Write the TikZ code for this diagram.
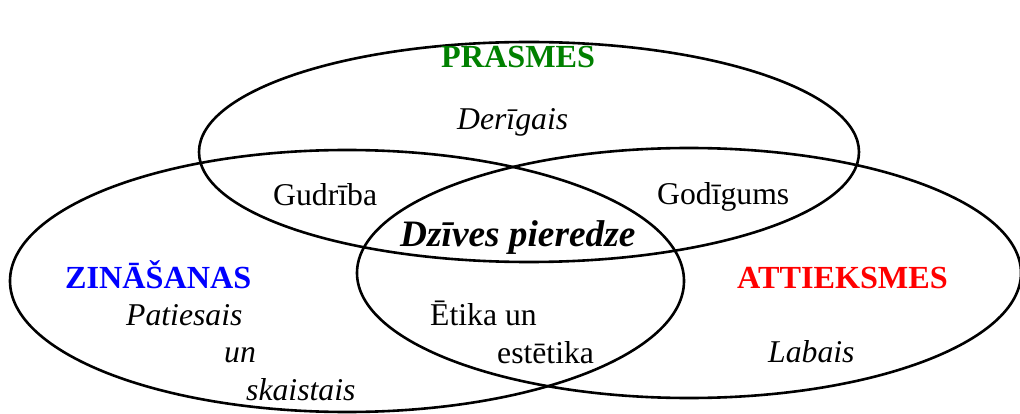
\documentclass[tikz,border=0pt]{standalone}
\usepackage{fontspec}
\setmainfont{Liberation Serif}
\definecolor{pgreen}{RGB}{0,128,0}
\definecolor{pblue}{RGB}{0,0,255}
\definecolor{pred}{RGB}{255,0,0}
\tikzset{
  ring/.style={draw=black, line width=2.6pt},
  lbl/.style={anchor=base west, inner sep=0pt, font=\fontsize{31.7}{38}\selectfont},
  ilbl/.style={lbl, font=\fontsize{31.7}{38}\selectfont\itshape},
  title/.style={lbl, font=\fontsize{32.2}{38}\selectfont\bfseries},
  center/.style={anchor=base west, inner sep=0pt, font=\fontsize{37.3}{42}\selectfont\bfseries\itshape}
}
\begin{document}
\begin{tikzpicture}[x=1pt,y=-1pt]
\useasboundingbox (0,0) rectangle (1020,414);
\draw[ring] (529,152) ellipse [x radius=330, y radius=110];
\draw[ring] (347,281) ellipse [x radius=337, y radius=131];
\draw[ring] (689,273) ellipse [x radius=332, y radius=125];

\node[title, text=pgreen] (prasmes) at (441,68) {PRASMES};
\node[ilbl] (derigais) at (457,130) {Derīgais};
\node[lbl] (gudriba) at (273,206) {Gudrība};
\node[lbl] (godigums) at (657,205) {Godīgums};
\node[center] (dzives) at (400,247) {Dzīves pieredze};
\node[title, text=pblue] (zinasanas) at (65,288) {ZINĀŠANAS};
\node[title, text=pred] (attieksmes) at (737,288) {ATTIEKSMES};
\node[ilbl] (patiesais) at (126,325) {Patiesais};
\node[ilbl] (un) at (224,362) {un};
\node[ilbl] (skaistais) at (246,400) {skaistais};
\node[lbl] (etika) at (430,325) {Ētika un};
\node[lbl] (estetika) at (497,363) {estētika};
\node[ilbl] (labais) at (768,362) {Labais};
\end{tikzpicture}
\end{document}
